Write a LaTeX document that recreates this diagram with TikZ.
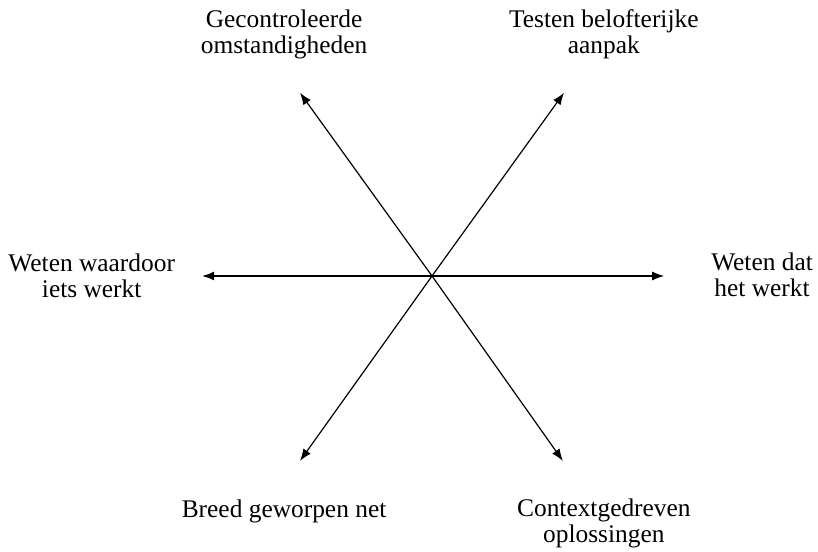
\documentclass[tikz,border=0pt]{standalone}
\usepackage{fontspec}
\setmainfont{Liberation Serif}
\usetikzlibrary{arrows.meta}

\tikzset{
  pijl/.style={line width=0.6pt, -{Latex[length=6pt,width=4.5pt]}},
  label/.style={align=center, font=\fontsize{12.7}{13}\selectfont, inner sep=0pt}
}

\begin{document}
\begin{tikzpicture}
        \useasboundingbox (-7.592,-4.833) rectangle (6.783,4.850);
        % midden
        \coordinate (c) at (0,0);
        % pijlpunten
        \coordinate (lb) at (-2.32,3.22);
        \coordinate (rb) at (2.32,3.22);
        \coordinate (l) at (-4.04,0);
        \coordinate (r) at (4.08,0);
        \coordinate (lo) at (-2.32,-3.25);
        \coordinate (ro) at (2.30,-3.25);
        % pijlen
        \draw [pijl] (c) -- (lb);
        \draw [pijl] (c) -- (rb);
        \draw [pijl] (c) -- (l);
        \draw [pijl] (c) -- (r);
        \draw [pijl] (c) -- (lo);
        \draw [pijl] (c) -- (ro);
        % teksten
        \node [label] (gecontroleerd) at (-2.60,4.24) {Gecontroleerde\\omstandigheden};
        \node [label] (testen) at (3.02,4.25) {Testen belofterijke\\aanpak};
        \node [label] (waardoor) at (-5.98,0) {Weten waardoor\\iets werkt};
        \node [label] (dat) at (5.80,0.02) {Weten dat\\het werkt};
        \node [label] (breed) at (-2.60,-4.13) {Breed geworpen net};
        \node [label] (context) at (3.02,-4.34) {Contextgedreven\\oplossingen};
    \end{tikzpicture}
\end{document}
